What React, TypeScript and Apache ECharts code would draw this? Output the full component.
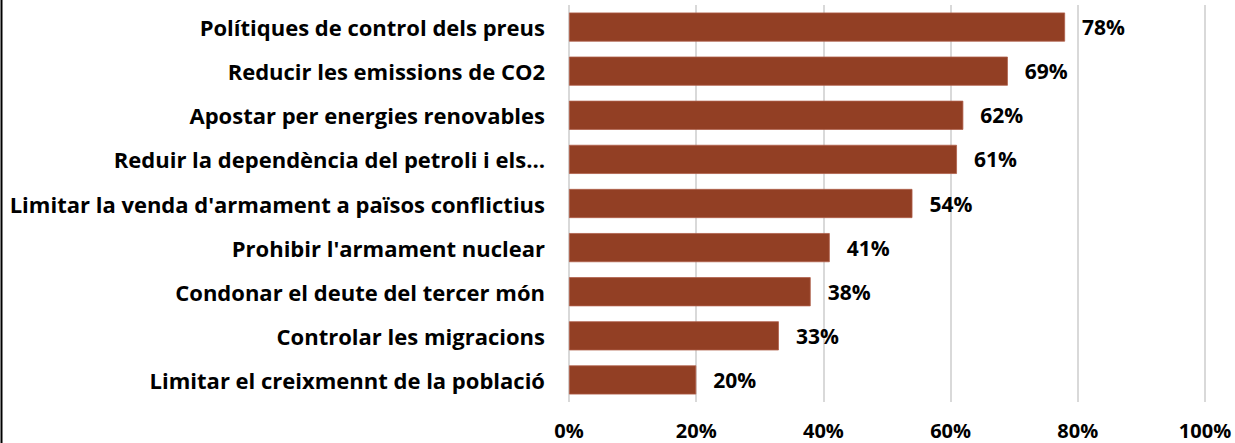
import React, { useEffect, useRef } from "react";
import * as echarts from "echarts";

const categories = [
  "Polítiques de control dels preus",
  "Reducir les emissions de CO2",
  "Apostar per energies renovables",
  "Reduir la dependència del petroli i els…",
  "Limitar la venda d'armament a països conflictius",
  "Prohibir l'armament nuclear",
  "Condonar el deute del tercer món",
  "Controlar les migracions",
  "Limitar el creixmennt de la població",
];
const values = [78, 69, 62, 61, 54, 41, 38, 33, 20];
const xTicks = { min: 0, max: 100, interval: 20 };

const FONT = "'Open Sans', sans-serif";

export default function App() {
  const ref = useRef<HTMLDivElement>(null);
  useEffect(() => {
    if (!ref.current) return;
    const chart = echarts.init(ref.current, undefined, { renderer: "svg" });
    chart.setOption({
      animation: false,
      backgroundColor: "#ffffff",
      grid: { left: 569, right: 30, top: 5, bottom: 41, containLabel: false },
      xAxis: {
        type: "value",
        min: xTicks.min,
        max: xTicks.max,
        interval: xTicks.interval,
        axisLine: { show: false },
        axisTick: { show: false },
        splitLine: { show: true, lineStyle: { color: "#d9d9d9", width: 2 } },
        axisLabel: {
          formatter: "{value}%",
          color: "#000",
          fontFamily: FONT,
          fontWeight: "bold",
          fontSize: 20,
          lineHeight: 20,
          margin: 18,
        },
      },
      yAxis: {
        type: "category",
        data: categories,
        inverse: true,
        axisLine: { show: false },
        axisTick: { show: false },
        splitLine: { show: false },
        axisLabel: {
          color: "#000",
          fontFamily: FONT,
          fontWeight: "bold",
          fontSize: 22,
          margin: 24,
        },
      },
      series: [
        {
          type: "bar",
          data: values,
          barCategoryGap: "34%",
          itemStyle: { color: "#923f24", borderColor: "#b0604a", borderWidth: 0.8 },
          label: {
            show: true,
            position: "right",
            distance: 17,
            formatter: "{c}%",
            color: "#000",
            fontFamily: FONT,
            fontWeight: "bold",
            fontSize: 21,
          },
        },
      ],
      graphic: [
        {
          type: "line",
          shape: { x1: 1.5, y1: 0, x2: 1.5, y2: 443 },
          style: { stroke: "#000", lineWidth: 2 },
        },
      ],
    });
    return () => chart.dispose();
  }, []);
  return (
    <div
      ref={ref}
      style={{ position: "absolute", left: 0, top: 0, width: 1235, height: 443 }}
    />
  );
}
